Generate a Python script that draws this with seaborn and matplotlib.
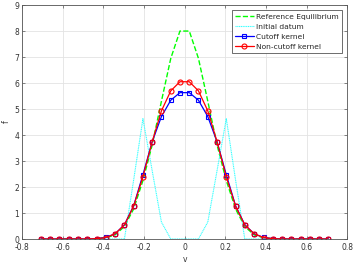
import matplotlib
matplotlib.use("Agg")
import matplotlib.pyplot as plt
import seaborn as sns
import pandas as pd

v = [-0.707, -0.661, -0.616, -0.570, -0.524, -0.479, -0.433, -0.388, -0.342, -0.296,
     -0.251, -0.205, -0.160, -0.114, -0.068, -0.023, 0.023, 0.068, 0.114, 0.160,
     0.205, 0.251, 0.296, 0.342, 0.388, 0.433, 0.479, 0.524, 0.570, 0.616, 0.661, 0.707]

reference_eq = [0, 0, 0, 0, 0, 0.002, 0.01, 0.045, 0.16, 0.48, 1.15, 2.25, 3.6, 5.3, 6.95, 8.0,
                8.0, 6.95, 5.3, 3.6, 2.25, 1.15, 0.48, 0.16, 0.045, 0.01, 0.002, 0, 0, 0, 0, 0]
initial_datum = [0, 0, 0, 0, 0, 0, 0, 0, 0, 0, 2.25, 4.63, 2.65, 0.65, 0, 0,
                 0, 0, 0.65, 2.65, 4.63, 2.25, 0, 0, 0, 0, 0, 0, 0, 0, 0, 0]
cutoff = [0, 0, 0, 0, 0, 0.002, 0.012, 0.06, 0.20, 0.55, 1.27, 2.47, 3.73, 4.71, 5.34, 5.63,
          5.63, 5.34, 4.71, 3.73, 2.47, 1.27, 0.55, 0.20, 0.06, 0.012, 0.002, 0, 0, 0, 0, 0]
noncutoff = [0, 0, 0, 0, 0, 0.002, 0.012, 0.055, 0.20, 0.54, 1.26, 2.39, 3.73, 4.93, 5.70, 6.05,
             6.05, 5.70, 4.93, 3.73, 2.39, 1.26, 0.54, 0.20, 0.055, 0.012, 0.002, 0, 0, 0, 0, 0]

labels = ["Reference Equilibrium", "Initial datum", "Cutoff kernel", "Non-cutoff kernel"]
x_ticks = [-0.8, -0.6, -0.4, -0.2, 0, 0.2, 0.4, 0.6, 0.8]
x_ticklabels = ["-0.8", "-0.6", "-0.4", "-0.2", "0", "0.2", "0.4", "0.6", "0.8"]
y_ticks = [0, 1, 2, 3, 4, 5, 6, 7, 8, 9]

sns.set_style("whitegrid")
plt.rcParams["font.family"] = ["DejaVu Sans"]

df = pd.DataFrame({"v": v, "ref": reference_eq, "init": initial_datum,
                   "cut": cutoff, "non": noncutoff})

fig = plt.figure(figsize=(3.54, 2.66), dpi=100)
ax = fig.add_axes([0.062, 0.1015, 0.919, 0.8795])

sns.lineplot(data=df, x="v", y="ref", ax=ax, color="#00ff00", linestyle="--",
             linewidth=1.0, sort=False, label=labels[0])
sns.lineplot(data=df, x="v", y="init", ax=ax, color="#33ffff", linestyle=(0, (1, 0.6)),
             linewidth=0.8, sort=False, label=labels[1])
sns.lineplot(data=df, x="v", y="cut", ax=ax, color="#0000ff", linestyle="-",
             linewidth=0.9, marker="s", markersize=3.2, markerfacecolor="none",
             markeredgecolor="#0000ff", markeredgewidth=0.8, sort=False, label=labels[2])
sns.lineplot(data=df, x="v", y="non", ax=ax, color="#ff0000", linestyle="-",
             linewidth=0.9, marker="o", markersize=3.6, markerfacecolor="none",
             markeredgecolor="#ff0000", markeredgewidth=0.8, sort=False, label=labels[3])

ax.set_xlim(-0.8, 0.8)
ax.set_ylim(0, 9)
ax.set_xticks(x_ticks)
ax.set_xticklabels(x_ticklabels)
ax.set_yticks(y_ticks)
ax.grid(True, color="#e3e3e3", linewidth=0.6)
for s in ax.spines.values():
    s.set_color("#555555")
    s.set_linewidth(0.6)
ax.tick_params(axis="both", direction="in", length=2.5, width=0.5, colors="#555555",
               labelsize=5.5, labelcolor="#333333",
               top=True, right=True, bottom=True, left=True)
ax.tick_params(axis="x", pad=3)
ax.tick_params(axis="y", pad=2)
ax.set_xlabel("v", fontsize=5.5, color="#333333", labelpad=2)
ax.set_ylabel("f", fontsize=5.5, color="#333333")
ax.yaxis.set_label_coords(-0.033, 0.5)

leg = ax.legend(loc="upper right", fontsize=5.4, frameon=True, fancybox=False,
                edgecolor="#333333", framealpha=1, borderpad=0.4, handlelength=2.6,
                handletextpad=0.3, labelspacing=0.5, borderaxespad=0.7)
leg.get_frame().set_linewidth(0.5)

fig.savefig("out.png", dpi=100)
